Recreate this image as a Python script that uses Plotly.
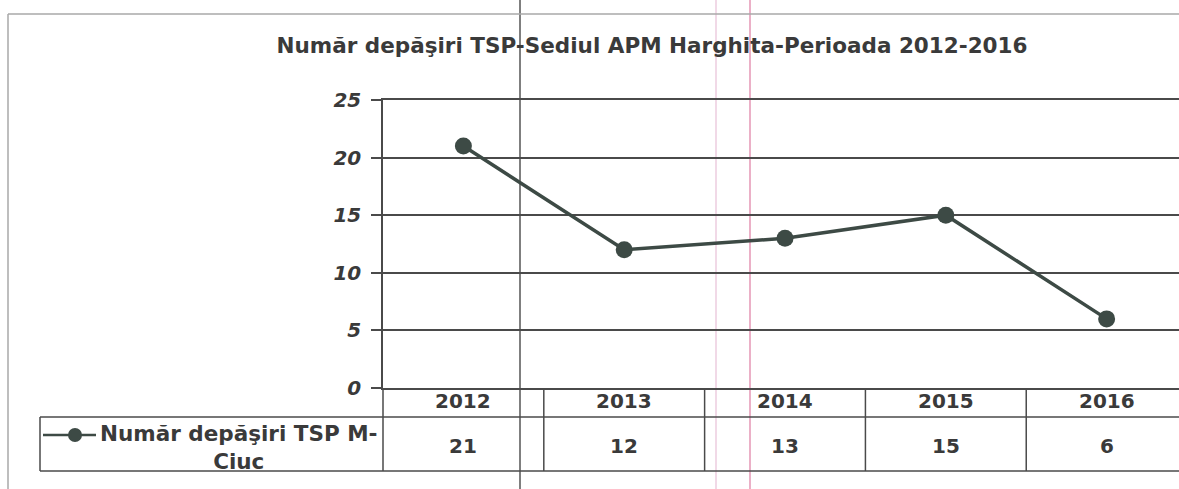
import plotly.graph_objects as go

years = ["2012", "2013", "2014", "2015", "2016"]
values = [21, 12, 13, 15, 6]
series_name = "Număr depăşiri TSP M-<br>Ciuc"
title_text = "Număr depăşiri TSP-Sediul APM Harghita-Perioada 2012-2016"
y_ticks = [0, 5, 10, 15, 20, 25]

W, H = 1179, 489
L, R, T, B = 383, 0, 100, 101
PW, PH = W - L - R, H - T - B
XMIN, XMAX = -0.5, 4.45

def px(X):
    return (X - L) / PW

def py(Y):
    return (H - B - Y) / PH

def dx(v):
    return (v - XMIN) / (XMAX - XMIN)

line_col = "#3d4a45"
grid_col = "#4a4a4a"
txt_col = "#3a3a3a"
FONT = "DejaVu Sans, Arial, sans-serif"

fig = go.Figure()
fig.add_trace(go.Scatter(
    x=list(range(len(years))), y=values, mode="lines+markers",
    line=dict(color=line_col, width=3.5),
    marker=dict(color=line_col, size=17),
    showlegend=False, cliponaxis=False,
))

shapes = []
def hline(x0, x1, y, col=grid_col, w=1.5):
    shapes.append(dict(type="line", xref="paper", yref="paper", x0=x0, x1=x1, y0=y, y1=y,
                       line=dict(color=col, width=w), layer="below"))
def vline(x, y0, y1, col=grid_col, w=1.5):
    shapes.append(dict(type="line", xref="paper", yref="paper", x0=x, x1=x, y0=y0, y1=y1,
                       line=dict(color=col, width=w), layer="below"))

# scan artefacts
vline(px(520), py(0), py(489), col="#555555", w=1.5)
vline(px(716), py(0), py(489), col="#ecccdf", w=1.5)
vline(px(750), py(0), py(489), col="#e596b5", w=1.5)

# outer frame (page border)
hline(px(8), 1.0, py(14), col="#a8a8a8", w=1.5)
vline(px(8), py(14), py(489), col="#a8a8a8", w=1.5)

# table
row_top = py(388)
row_mid = py(417)
row_bot = py(471)
hline(px(40), 1.0, row_mid)
hline(px(40), 1.0, row_bot)
vline(px(40), row_mid, row_bot)
vline(0, row_top, row_bot)
for i in range(len(years)):
    vline(dx(i + 0.5), row_top, row_bot)

# legend symbol in table
sym_y = py(435)
hline(px(43), px(96), sym_y, col=line_col, w=2.5)
shapes.append(dict(type="circle", xref="paper", yref="paper",
                   x0=px(68), x1=px(82), y0=sym_y - 7 / PH, y1=sym_y + 7 / PH,
                   fillcolor=line_col, line=dict(color=line_col, width=0)))

annotations = []
for i, (yr, v) in enumerate(zip(years, values)):
    annotations.append(dict(x=i, xref="x", y=py(401), yref="paper",
                            text=f"<b>{yr}</b>", showarrow=False,
                            xanchor="center", yanchor="middle",
                            font=dict(size=20, color=txt_col, family=FONT)))
    annotations.append(dict(x=i, xref="x", y=py(446), yref="paper",
                            text=f"<b>{v}</b>", showarrow=False,
                            xanchor="center", yanchor="middle",
                            font=dict(size=20, color=txt_col, family=FONT)))
annotations.append(dict(x=px(239), xref="paper", y=py(447), yref="paper",
                        text=f"<b>{series_name}</b>", showarrow=False, align="center",
                        xanchor="center", yanchor="middle",
                        font=dict(size=21.5, color=txt_col, family=FONT)))

fig.update_layout(
    width=W, height=H,
    margin=dict(l=L, r=R, t=T, b=B, pad=0),
    paper_bgcolor="white", plot_bgcolor="white",
    title=dict(text=f"<b>{title_text}</b>", x=px(652), xanchor="center", xref="paper",
               y=1 - 45 / H, yanchor="middle",
               font=dict(size=21.5, color=txt_col, family=FONT)),
    xaxis=dict(range=[XMIN, XMAX], showticklabels=False, showgrid=False, zeroline=False,
               showline=True, mirror=True, linecolor=grid_col, linewidth=1.5, ticks=""),
    yaxis=dict(range=[0, 25], tickvals=y_ticks, showgrid=True, gridcolor=grid_col, gridwidth=1.5,
               zeroline=False, showline=True, linecolor=grid_col, linewidth=1.5,
               ticks="outside", ticklen=10, tickcolor=grid_col, tickwidth=1.5,
               ticklabelstandoff=6,
               tickfont=dict(size=20, color=txt_col, family=FONT, weight="bold", style="italic")),
    shapes=shapes, annotations=annotations,
)
fig.write_html("out.html", config={"displayModeBar": False},
               post_script="document.body.style.margin='0';")
